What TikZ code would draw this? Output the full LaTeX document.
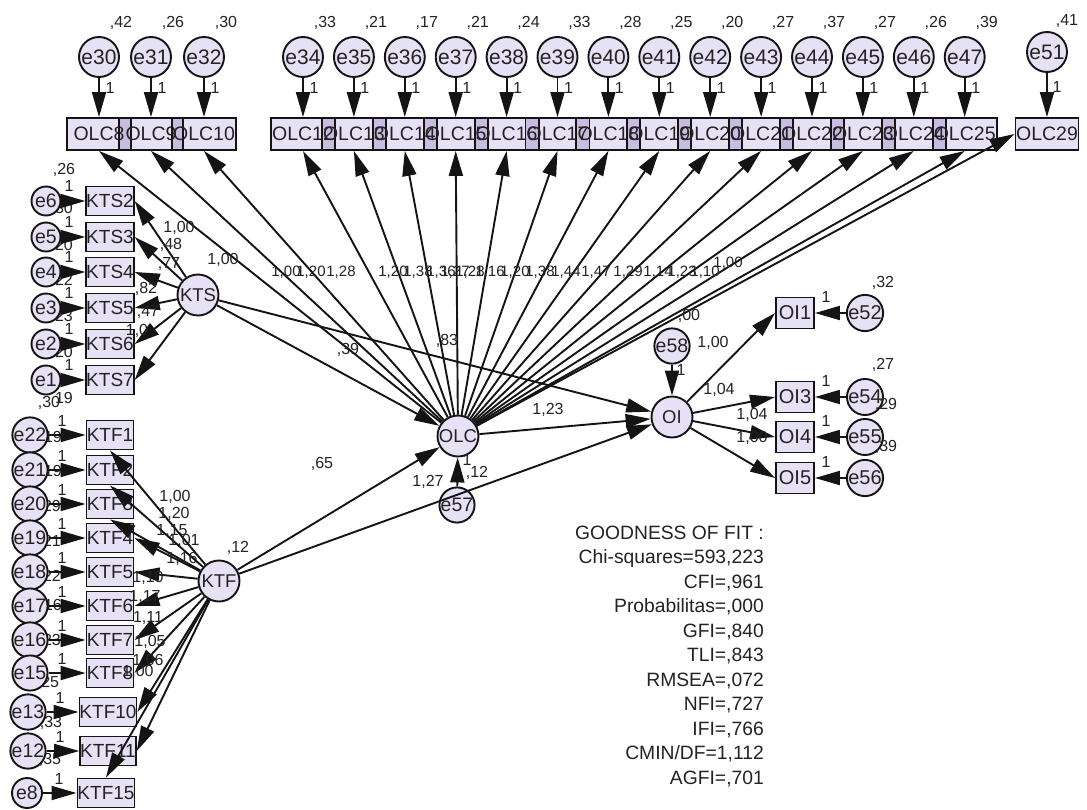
\documentclass[tikz,border=0pt]{standalone}
\usepackage{fontspec}
\setmainfont{Liberation Sans}
\usetikzlibrary{arrows.meta}
\definecolor{nodefill}{RGB}{231,225,245}
\definecolor{ovfill}{RGB}{200,189,224}
\definecolor{ink}{RGB}{20,20,20}
\definecolor{txt}{RGB}{35,35,35}
\pgfdeclarelayer{bg}
\pgfsetlayers{bg,main}
\tikzset{
 lw/.style={line width=1.9pt},
 lat/.style={circle, draw=ink, lw, fill=nodefill, minimum size=41pt, inner sep=0pt, text=txt, font=\fontsize{18.5}{18.5}\selectfont},
 err/.style={circle, draw=ink, lw, fill=nodefill, minimum size=40pt, inner sep=0pt, text=txt, font=\fontsize{21}{21}\selectfont},
 errs/.style={err, minimum size=29pt, font=\fontsize{19.5}{19.5}\selectfont},
 obs/.style={rectangle, draw=ink, lw, fill=nodefill, minimum width=47pt, minimum height=29pt, inner sep=0pt, text=txt, font=\fontsize{19}{19}\selectfont},
 obox/.style={rectangle, draw=ink, lw, minimum width=64pt, minimum height=32pt, inner sep=0pt, text=txt, font=\fontsize{19.5}{19.5}\selectfont},
 oibox/.style={obs, minimum width=38pt, minimum height=31pt, font=\fontsize{20}{20}\selectfont},
 arr/.style={draw=ink, lw, -{Triangle[length=25pt,width=14pt]}},
 lab/.style={inner sep=0pt, text=txt, font=\fontsize{16}{16}\selectfont},
 labs/.style={lab, font=\fontsize{15}{15}\selectfont},
}
\begin{document}
\begin{tikzpicture}[x=1pt,y=-1pt]
\begin{pgfonlayer}{bg}
\fill[white] (0,0) rectangle (1087,809);
\end{pgfonlayer}
\useasboundingbox (0,0) rectangle (1087,809);

% partially hidden variance labels (drawn first, under the circles)
\node[lab] (pv0) at (64,170) {,26};
\foreach \x/\y/\t [count=\i] in {73/208/30,73/245/20,73/280/22,73/316/23,73/352/20,73/398/19,
  62/437/19,62/471/19,61/506/29,61/541/21,61/576/22,62/605/16,61/640/23}
  \node[lab, anchor=east] (pv\i) at (\x,\y) {\t};
\node[lab] (pv20) at (49,403) {,30};
\node[lab] (pv21) at (48,683) {,25};
\node[lab] (pv22) at (51,723) {,33};
\node[lab] (pv23) at (50,760) {,35};

% ---------- nodes ----------
\node[lat] (lKTS) at (198,295) {KTS};
\node[lat] (lKTF) at (219,581) {KTF};
\node[lat] (lOLC) at (458,436) {OLC};
\node[lat] (lOI) at (672,417) {OI};
\node[err, minimum size=30pt, font=\fontsize{19.5}{19.5}\selectfont] (e57) at (457,505) {e57};
\node[err, minimum size=30pt, font=\fontsize{19.5}{19.5}\selectfont] (e58) at (672,346) {e58};

\foreach \e/\o/\x in {30/8/99,31/9/151,32/10/204}{
  \node[err] (e\e) at (\x,57) {e\e};
  \node[obox] (olc\o) at (\x,134) {OLC\o};
}
\foreach \i in {0,...,13}{
  \pgfmathsetmacro{\xx}{303+50.9*\i}
  \pgfmathtruncatemacro{\en}{34+\i}
  \pgfmathtruncatemacro{\on}{12+\i}
  \node[err] (e\en) at (\xx,57) {e\en};
  \node[obox] (olc\on) at (\xx,134) {OLC\on};
}
\node[err] (e51) at (1047,52) {e51};
\node[obox, minimum width=63pt] (olc29) at (1047,134) {OLC29};

\begin{pgfonlayer}{bg}
  \foreach \n in {8,9,10,12,13,14,15,16,17,18,19,20,21,22,23,24,25,29}
    \fill[nodefill] (olc\n.south west) rectangle (olc\n.north east);
  \foreach \a/\b in {8/9,9/10,12/13,13/14,14/15,15/16,16/17,17/18,18/19,19/20,20/21,21/22,22/23,23/24,24/25}
    \fill[ovfill] (olc\b.south west) rectangle (olc\a.north east);
\end{pgfonlayer}

\foreach \k/\y/\e in {2/201/6,3/237/5,4/272/4,5/308/3,6/344/2,7/380/1}{
  \node[obs] (kts\k) at (110,\y) {KTS\k};
  \node[errs] (e\e) at (46,\y) {e\e};
}
\foreach \k/\y/\e/\xb/\xe in {1/435/22/110/30,2/470/21/110/30,3/504/20/110/30,4/538/19/110/30,
   5/572/18/110/30,6/606/17/110/30,7/640/16/110/30,8/673/15/110/30,10/712/13/108/28,
   11/751/12/108/28,15/793/8/106/27}{
  \node[obs] (ktf\k) at (\xb,\y) {KTF\k};
  \node[errs, minimum size=30pt] (e\e) at (\xe,\y) {e\e};
}
\foreach \k/\y/\e in {1/313/52,3/397/54,4/437/55,5/478/56}{
  \node[oibox] (oi\k) at (795,\y) {OI\k};
  \node[err, minimum size=34pt, font=\fontsize{20}{20}\selectfont] (e\e) at (865,\y) {e\e};
}

% ---------- connectors ----------
\foreach \e/\o in {30/8,31/9,32/10,34/12,35/13,36/14,37/15,38/16,39/17,40/18,41/19,42/20,43/21,44/22,45/23,46/24,47/25,51/29}
  \draw[arr] (e\e) -- (olc\o.north);
\foreach \n in {8,9,10,12,13,14,15,16,17,18,19,20,21,22,23,24,25}
  \draw[arr] (lOLC) -- (olc\n.south);
\draw[arr] (lOLC) -- (olc29.west);

\foreach \k/\e in {2/6,3/5,4/4,5/3,6/2,7/1}{
  \draw[arr] (e\e) -- (kts\k.west);
  \draw[arr] (lKTS) -- (kts\k.east);
}
\foreach \k/\e/\an in {1/22/south,2/21/south,3/20/south,4/19/east,5/18/east,6/17/east,7/16/east,
   8/15/east,10/13/east,11/12/east,15/8/north}{
  \draw[arr] (e\e) -- (ktf\k.west);
  \draw[arr] (lKTF) -- (ktf\k.\an);
}
\foreach \k/\e in {1/52,3/54,4/55,5/56}{
  \draw[arr] (e\e) -- (oi\k.east);
  \draw[arr] (lOI) -- (oi\k.west);
}
\draw[arr] (lKTS) -- (lOLC);
\draw[arr] (lKTS) -- (lOI);
\draw[arr] (lKTF) -- (lOLC);
\draw[arr] (lKTF) -- (lOI);
\draw[arr] (lOLC) -- (lOI);
\draw[arr] (e57) -- (lOLC);
\draw[arr] (e58) -- (lOI);

% ---------- labels ----------
\foreach \x/\v [count=\i] in {99/42,151/26,204/30}{
  \node[lab] (v\i) at (\x+22,23) {,\v};
  \node[lab] (w\i) at (\x+11,88) {1};
}
\foreach \i/\v in {0/33,1/21,2/17,3/21,4/24,5/33,6/28,7/25,8/20,9/27,10/37,11/27,12/26,13/39}{
  \pgfmathsetmacro{\xx}{303+50.9*\i}
  \node[lab] (vm\i) at (\xx+22,23) {,\v};
  \node[lab] (wm\i) at (\xx+11,88) {1};
}
\node[lab] (v51) at (1067,21) {,41};
\node[lab] (w51) at (1057,87) {1};
\foreach \y [count=\i] in {201,237,272,308,344,380}
  \node[lab] (wk\i) at (69,\y-15) {1};
\foreach \x/\y [count=\i] in {62/435,62/470,62/504,62/538,62/572,62/606,62/640,62/673,60/712,60/751,59/793}
  \node[lab] (wf\i) at (\x,\y-14) {1};
\foreach \y [count=\i] in {313,397,437,478}
  \node[lab] (wo\i) at (826,\y-16) {1};

\foreach \x/\y/\t [count=\i] in {179/228/{1,00},171/245/{,48},169/264/{,77},146/289/{,82},148/312/{,47},137/331/{1,0},223/260/{1,00},
  175/497/{1,00},174/514/{1,20},172/531/{1,15},184/541/{1,01},182/559/{1,16},148/578/{1,10},145/597/{1,17},148/618/{1,11},150/642/{1,05},148/661/{1,06},138/672/{1,00},238/548/{,12},
  348/350/{,39},447/341/{,83},322/464/{,65},428/482/{1,27},548/410/{1,23},467/460/{1},477/473/{,12},
  689/316/{,00},681/370/{1},713/343/{1,00},719/390/{1,04},752/415/{1,04},752/438/{1,00},
  883/283/{,32},883/365/{,27},886/405/{,29},886/447/{,39}}
  \node[lab] (pl\i) at (\x,\y) {\t};

\foreach \x/\y/\t [count=\i] in {286/272/{1,00},311/272/{1,20},341/272/{1,28},393/272/{1,20},418/272/{1,38},441/272/{1,36},455/272/{1,27},470/272/{1,28},490/272/{1,16},515/272/{1,20},540/272/{1,38},566/272/{1,44},596/272/{1,47},628/272/{1,29},658/272/{1,14},682/272/{1,23},705/272/{1,10},728/263/{1,00}}
  \node[labs] (po\i) at (\x,\y) {\t};

% goodness of fit
\foreach \t [count=\i] in {{GOODNESS OF FIT :},{Chi-squares=593,223},{CFI=,961},{Probabilitas=,000},{GFI=,840},{TLI=,843},{RMSEA=,072},{NFI=,727},{IFI=,766},{CMIN/DF=1,112},{AGFI=,701}}{
  \pgfmathsetmacro{\yy}{539+24.5*(\i-1)}
  \node[anchor=base east, inner sep=0pt, text=txt, font=\fontsize{19.3}{19.3}\selectfont] (gof\i) at (764,\yy) {\t};
}
\end{tikzpicture}
\end{document}
